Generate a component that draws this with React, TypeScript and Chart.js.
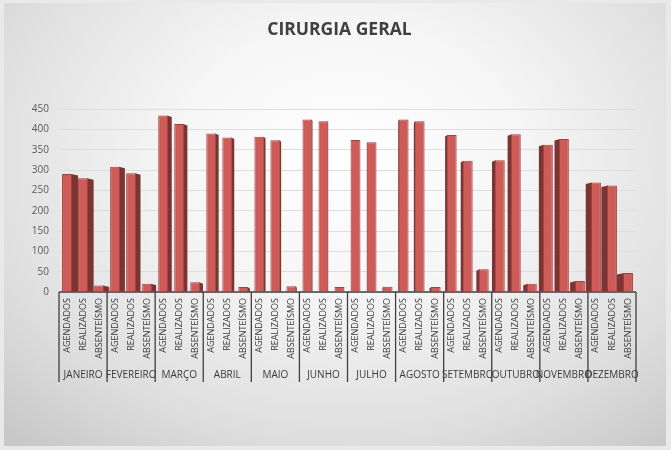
import React, { useEffect, useRef } from "react";
import { Chart, registerables } from "chart.js";

Chart.register(...registerables);

const months = [
  "JANEIRO", "FEVEREIRO", "MARÇO", "ABRIL", "MAIO", "JUNHO",
  "JULHO", "AGOSTO", "SETEMBRO", "OUTUBRO", "NOVEMBRO", "DEZEMBRO",
];
const subCategories = ["AGENDADOS", "REALIZADOS", "ABSENTEÍSMO"];
const agendados = [290, 308, 434, 390, 382, 424, 374, 424, 386, 324, 362, 269];
const realizados = [280, 292, 413, 380, 373, 420, 368, 420, 323, 388, 376, 262];
const absenteismo = [16, 20, 24, 12, 14, 12, 13, 12, 56, 20, 27, 47];

const flatLabels: string[] = [];
const flatValues: number[] = [];
months.forEach((_, i) => {
  flatLabels.push(...subCategories);
  flatValues.push(agendados[i], realizados[i], absenteismo[i]);
});

const FONT = "'Open Sans', 'Noto Sans', sans-serif";

const sidePlugin = {
  id: "side3d",
  beforeDatasetsDraw(chart: any) {
    const meta = chart.getDatasetMeta(0);
    const ctx = chart.ctx;
    const cx = (chart.chartArea.left + chart.chartArea.right) / 2;
    ctx.save();
    meta.data.forEach((el: any) => {
      const { x, y, base, width } = el.getProps(["x", "y", "base", "width"], true);
      const dx = Math.max(-7, Math.min(7, (cx - x) * 0.025));
      const edge = dx >= 0 ? x + width / 2 - 1 : x - width / 2 + 1;
      ctx.fillStyle = "#7a3432";
      ctx.beginPath();
      ctx.moveTo(edge, y);
      ctx.lineTo(edge + dx, y + 1.5);
      ctx.lineTo(edge + dx, base);
      ctx.lineTo(edge, base);
      ctx.closePath();
      ctx.fill();
    });
    ctx.restore();
  },
};

const separatorPlugin = {
  id: "separators",
  afterDraw(chart: any) {
    const xs = chart.scales.x;
    const x2 = chart.scales.x2;
    const ctx = chart.ctx;
    const slot = (xs.right - xs.left) / flatLabels.length;
    ctx.save();
    ctx.strokeStyle = "#3f3f3f";
    ctx.lineWidth = 1.3;
    ctx.beginPath();
    ctx.moveTo(xs.left, chart.chartArea.bottom);
    ctx.lineTo(xs.right, chart.chartArea.bottom);
    ctx.stroke();
    for (let k = 0; k <= months.length; k++) {
      const px = k < months.length ? xs.getPixelForValue(k * 3) - slot / 2 : xs.right;
      ctx.beginPath();
      ctx.moveTo(px, chart.chartArea.bottom);
      ctx.lineTo(px, x2.bottom - 6);
      ctx.stroke();
    }
    ctx.restore();
  },
};

export default function App() {
  const ref = useRef<HTMLCanvasElement>(null);
  useEffect(() => {
    if (!ref.current) return;
    const chart = new Chart(ref.current, {
      type: "bar",
      data: {
        labels: flatLabels,
        datasets: [
          {
            label: "CIRURGIA GERAL",
            data: flatValues,
            xAxisID: "x",
            yAxisID: "y",
            backgroundColor: "#cd5c59",
            borderColor: "#a33f3d",
            borderWidth: 1,
            barPercentage: 0.62,
            categoryPercentage: 1,
          },
        ],
      },
      options: {
        responsive: false,
        animation: false,
        layout: { padding: { left: 8, right: 0, top: 0, bottom: 62 } },
        plugins: {
          legend: { display: false },
          tooltip: { enabled: false },
          title: {
            display: true,
            text: "CIRURGIA GERAL",
            color: "#404040",
            font: { family: FONT, size: 17.5, weight: "bold" },
            padding: { top: 20, bottom: 68 },
          },
        },
        scales: {
          x: {
            type: "category",
            labels: flatLabels,
            offset: true,
            grid: { display: false, drawTicks: false },
            border: { display: false },
            ticks: {
              autoSkip: false,
              maxRotation: 90,
              minRotation: 90,
              color: "#3a3a3a",
              padding: 6,
              font: { family: FONT, size: 9 },
            },
            afterFit: (s: any) => {
              s.height = 72;
            },
          },
          x2: {
            type: "category",
            labels: months,
            position: "bottom",
            offset: true,
            grid: { display: false, drawTicks: false },
            border: { display: false },
            ticks: {
              autoSkip: false,
              maxRotation: 0,
              minRotation: 0,
              color: "#3a3a3a",
              padding: 5,
              font: { family: FONT, size: 10 },
            },
            afterFit: (s: any) => {
              s.height = 24;
            },
          },
          y: {
            min: 0,
            max: 450,
            ticks: {
              stepSize: 50,
              color: "#595959",
              padding: 10,
              font: { family: FONT, size: 10 },
            },
            grid: { color: "#dedede", drawTicks: false },
            border: { display: false },
            afterFit: (s: any) => {
              s.width = 51;
            },
          },
          yRight: {
            position: "right",
            min: 0,
            max: 450,
            display: true,
            grid: { display: false, drawTicks: false },
            border: { display: false },
            ticks: { display: false },
            afterFit: (s: any) => {
              s.width = 35;
            },
          },
        },
      },
      plugins: [sidePlugin, separatorPlugin],
    });
    return () => chart.destroy();
  }, []);

  return (
    <div
      style={{
        position: "fixed",
        left: 0,
        top: 0,
        width: 671,
        height: 450,
        background: "#e9e9e9",
      }}
    >
      <div
        style={{
          position: "absolute",
          left: 4,
          top: 3,
          width: 662,
          height: 443,
          background:
            "radial-gradient(ellipse 75% 85% at 52% 35%, #ffffff 0%, #f6f6f6 35%, #dedede 75%, #c8c8c8 100%)",
        }}
      />
      <canvas
        ref={ref}
        width={671}
        height={450}
        style={{ position: "absolute", left: 0, top: 0, display: "block" }}
      />
    </div>
  );
}
